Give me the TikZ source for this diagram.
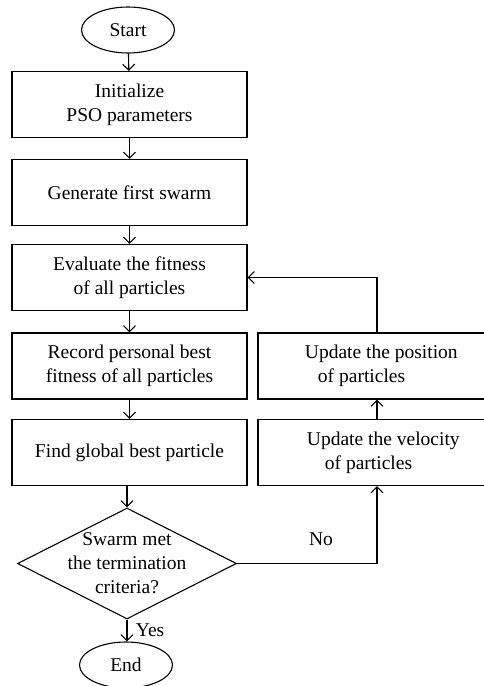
\documentclass[tikz,border=0pt]{standalone}
\usepackage{fontspec}
\setmainfont{Liberation Serif}
\usetikzlibrary{arrows.meta,shapes.geometric,calc}
\begin{document}
\begin{tikzpicture}[x=1pt,y=-1pt,
  every node/.style={font=\fontsize{19.5}{24}\selectfont},
  box/.style={draw,line width=1.1pt,minimum width=235pt,minimum height=66pt,inner sep=0pt,align=center},
  rbox/.style={draw,line width=1.1pt,minimum width=238pt,minimum height=66pt,inner sep=0pt},
  term/.style={draw,line width=1.1pt,ellipse,minimum width=93pt,minimum height=46pt,inner sep=0pt},
  dec/.style={draw,line width=1.1pt,diamond,minimum width=219pt,minimum height=111pt,inner sep=0pt},
  arr/.style={line width=1.1pt,-{Straight Barb[length=6pt,width=12pt,line width=1.1pt]}}]
\useasboundingbox (0,0) rectangle (484,686);
\clip (0,0) rectangle (484,686);
\node[term] (start) at (128,30) {Start};
\node[box] (init) at (129.5,104.5) {Initialize\\PSO parameters};
\node[box] (gen) at (129.5,192.5) {Generate first swarm};
\node[box] (eval) at (129.5,277.5) {Evaluate the fitness\\of all particles};
\node[box] (rec) at (129.5,366) {Record personal best\\fitness of all particles};
\node[box] (find) at (129.5,452.5) {Find global best particle};
\node[dec] (dec) at (127,563.5) {};
\node[align=center] (dectext) at (127,563.5) {Swarm met\\the termination\\criteria?};
\node[term] (end) at (126,665) {End};
\node[rbox] (pos) at (377,366) {};
\node[anchor=west,align=left] (postext) at ($(pos.west)+(44,0)$) {Update the position\\\hspace{13pt}of particles};
\node[rbox] (vel) at (377,452.5) {};
\node[anchor=west,align=left] (veltext) at ($(vel.west)+(46,0)$) {Update the velocity\\\hspace{18pt}of particles};
\draw[arr] (start) -- (init);
\draw[arr] (init) -- (gen);
\draw[arr] (gen) -- (eval);
\draw[arr] (eval) -- (rec);
\draw[arr] (rec) -- (find);
\draw[arr] (find.south -| dec.north) -- (dec.north);
\draw[arr] (dec.south) -- node[right=5pt,pos=0.5] (yes) {Yes} (end.north -| dec.south);
\draw[arr] (dec.east) -| node[pos=0.3,above=14pt] (no) {No} (vel.south);
\draw[arr] (vel) -- (pos);
\draw[arr] (pos.north) |- (eval.east);
\end{tikzpicture}
\end{document}
